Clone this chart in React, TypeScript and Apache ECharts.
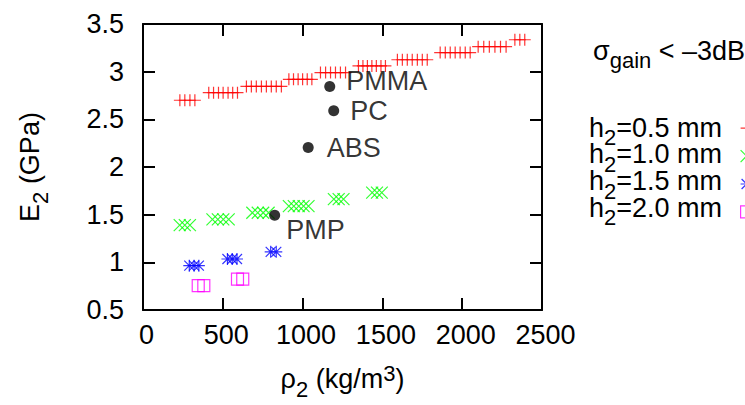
import React, { useEffect, useRef } from 'react';
import * as echarts from 'echarts';

const FONT = '"Liberation Sans", Arial, Helvetica, sans-serif';

// ---- data ----
const seriesNames = ['h2=0.5 mm', 'h2=1.0 mm', 'h2=1.5 mm', 'h2=2.0 mm'];
const h2Labels = ['0.5', '1.0', '1.5', '2.0'];

// [density kg/m3, E2 GPa]
const h05Points = [
  [231, 2.7], [262, 2.7], [294, 2.7], [325, 2.7],
  [412, 2.78], [442, 2.78], [473, 2.78], [502, 2.78], [533, 2.78], [562, 2.78], [592, 2.78],
  [648, 2.845], [679, 2.845], [710, 2.845], [742, 2.845], [773, 2.845], [804, 2.845], [835, 2.845], [867, 2.845],
  [914, 2.92], [943, 2.92], [972, 2.92], [1000, 2.92], [1029, 2.92], [1058, 2.92],
  [1112, 2.99], [1144, 2.99], [1175, 2.99], [1206, 2.99], [1237, 2.99], [1269, 2.99],
  [1350, 3.06], [1378, 3.06], [1406, 3.06], [1434, 3.06], [1462, 3.06], [1491, 3.06], [1519, 3.06],
  [1594, 3.125], [1625, 3.125], [1656, 3.125], [1687, 3.125], [1719, 3.125], [1750, 3.125], [1781, 3.125],
  [1862, 3.2], [1894, 3.2], [1925, 3.2], [1956, 3.2], [1987, 3.2], [2019, 3.2], [2050, 3.2],
  [2100, 3.262], [2135, 3.262], [2170, 3.262], [2205, 3.262], [2240, 3.262], [2275, 3.262],
  [2330, 3.335], [2361, 3.335], [2392, 3.335],
];
const h10Points = [
  [230, 1.39], [262, 1.39], [294, 1.39],
  [435, 1.45], [469, 1.45], [503, 1.45], [537, 1.45],
  [685, 1.52], [719, 1.52], [753, 1.52], [787, 1.52],
  [914, 1.59], [945, 1.59], [976, 1.59], [1006, 1.59], [1037, 1.59],
  [1196, 1.663], [1226, 1.663], [1256, 1.663],
  [1436, 1.732], [1466, 1.732], [1496, 1.732],
];
const h15Points = [
  [290, 0.965], [320, 0.965], [350, 0.965],
  [529, 1.035], [559, 1.035], [589, 1.035],
  [800, 1.11], [835, 1.11],
];
const h20Points = [
  [346, 0.755], [381, 0.755],
  [592, 0.823], [625, 0.823],
];

const materialNames = ['PMMA', 'PC', 'ABS', 'PMP'];
const materialDensity = [1170, 1195, 1035, 825];
const materialModulus = [2.845, 2.59, 2.205, 1.495];

const xMin = 0;
const xMax = 2500;
const xStep = 500;
const yMin = 0.5;
const yMax = 3.5;
const yStep = 0.5;

// ---- styles ----
const seriesColors = ['#ff0000', '#00ff00', '#0000ff', '#ff00ff'];
const seriesSymbols = [
  'path://M0,6L12,6M6,0L6,12',
  'path://M0,0L12,12M0,12L12,0',
  'path://M0,6L12,6M6,0L6,12M1,1L11,11M1,11L11,1',
  'path://M0,0L12,0L12,12L0,12Z',
];
const labelOffsets: Record<string, number[]> = {
  PMMA: [0, -5],
  PC: [0, 0],
  ABS: [2, 1],
  PMP: [-5, 15],
};

const FS = 27;
const SFS = 22;
const SUB_SHIFT = 10;
const LH = 50;
const rich = {
  m: { fontSize: FS, fontFamily: FONT, color: '#000', lineHeight: LH },
  s: { fontSize: SFS, fontFamily: FONT, color: '#000', padding: [SUB_SHIFT * 2, 0, 0, 0] },
  p: { fontSize: SFS, fontFamily: FONT, color: '#000', padding: [0, 0, 11, 0] },
};

const LEGEND_TEXT_X = 589;
const LEGEND_TOP_Y = 127.6;
const LEGEND_STEP = 26.7;

function measure(text: string, size: number): number {
  const c = document.createElement('canvas').getContext('2d');
  if (!c) return text.length * size * 0.55;
  c.font = `${size}px ${FONT}`;
  return c.measureText(text).width;
}

// text made of [content, isSubscript] pieces, laid out left to right
function subscriptText(x: number, y: number, pieces: [string, boolean][]) {
  let cx = 0;
  const children = pieces.map(([t, sub]) => {
    const size = sub ? SFS : FS;
    const el = {
      type: 'text',
      x: cx,
      y: sub ? SUB_SHIFT : 0,
      silent: true,
      style: {
        text: t,
        fontSize: size,
        fontFamily: FONT,
        fill: '#000',
        align: 'left',
        verticalAlign: 'middle',
      },
    };
    cx += measure(t, size);
    return el;
  });
  return { type: 'group', x, y, silent: true, children };
}

export default function App() {
  const ref = useRef<HTMLDivElement>(null);

  useEffect(() => {
    if (!ref.current) return;
    const chart = echarts.init(ref.current, null, { renderer: 'svg' });
    const allPoints = [h05Points, h10Points, h15Points, h20Points];

    const dataSeries = allPoints.map((pts, i) => ({
      name: seriesNames[i],
      type: 'scatter',
      xAxisIndex: 0,
      yAxisIndex: 0,
      data: pts,
      symbol: seriesSymbols[i],
      symbolSize: 12,
      itemStyle: {
        color: 'rgba(0,0,0,0)',
        borderColor: seriesColors[i],
        borderWidth: 1.2,
      },
      emphasis: { disabled: true },
      z: 3,
    }));

    const axisLine = { show: true, onZero: false, lineStyle: { color: '#000', width: 2 } };
    const axisTick = { show: true, inside: true, length: 12, lineStyle: { color: '#000', width: 2 } };

    const legendTexts = seriesNames.map((_, i) =>
      subscriptText(LEGEND_TEXT_X, LEGEND_TOP_Y + LEGEND_STEP * i, [
        ['h', false],
        ['2', true],
        [`=${h2Labels[i]} mm`, false],
      ])
    );

    const option = {
      animation: false,
      textStyle: { fontFamily: FONT },
      grid: { left: 143, right: 203, top: 24, bottom: 87, containLabel: false },
      xAxis: [
        {
          type: 'value',
          min: xMin,
          max: xMax,
          interval: xStep,
          position: 'bottom',
          axisLine,
          axisTick,
          axisLabel: {
            fontSize: FS,
            color: '#000',
            fontFamily: FONT,
            margin: 11,
            padding: [0, 0, 0, 7],
            formatter: (v: number) => String(v),
          },
          splitLine: { show: false },
          name: '{m|ρ}{s|2}{m| (kg/m}{p|3}{m|)}',
          nameLocation: 'middle',
          nameGap: 44,
          nameTextStyle: { rich, fontSize: FS, color: '#000' },
        },
        {
          type: 'value',
          min: xMin,
          max: xMax,
          interval: xStep,
          position: 'top',
          axisLine,
          axisTick,
          axisLabel: { show: false },
          splitLine: { show: false },
        },
      ],
      yAxis: [
        {
          type: 'value',
          min: yMin,
          max: yMax,
          interval: yStep,
          position: 'left',
          axisLine,
          axisTick,
          axisLabel: { fontSize: FS, color: '#000', fontFamily: FONT, margin: 19 },
          splitLine: { show: false },
          name: '{m|E}{s|2}{m| (GPa)}',
          nameLocation: 'middle',
          nameRotate: 90,
          nameGap: 88,
          nameTextStyle: { rich, fontSize: FS, color: '#000' },
        },
        {
          type: 'value',
          min: yMin,
          max: yMax,
          interval: yStep,
          position: 'right',
          axisLine,
          axisTick,
          axisLabel: { show: false },
          splitLine: { show: false },
        },
      ],
      legend: {
        data: seriesNames,
        orient: 'vertical',
        left: 740,
        top: LEGEND_TOP_Y - 6,
        padding: 0,
        align: 'left',
        itemWidth: 12,
        itemHeight: 12,
        itemGap: LEGEND_STEP - 12,
        selectedMode: false,
        formatter: () => '',
        itemStyle: { borderWidth: 1.2 },
        textStyle: { fontSize: 1, color: '#000' },
      },
      graphic: [
        subscriptText(593, 50.5, [
          ['σ', false],
          ['gain', true],
          [' < –3dB', false],
        ]),
        ...legendTexts,
      ],
      series: [
        ...dataSeries,
        {
          name: 'materials',
          type: 'scatter',
          xAxisIndex: 0,
          yAxisIndex: 0,
          symbol: 'circle',
          symbolSize: 11,
          itemStyle: { color: '#000' },
          emphasis: { disabled: true },
          z: 4,
          data: materialNames.map((n, i) => ({
            name: n,
            value: [materialDensity[i], materialModulus[i]],
            label: { offset: labelOffsets[n] },
          })),
          label: {
            show: true,
            position: 'right',
            distance: 11,
            formatter: '{b}',
            fontSize: FS,
            fontFamily: FONT,
            color: '#000',
          },
        },
      ],
    };

    chart.setOption(option as any);
    return () => chart.dispose();
  }, []);

  return (
    <div
      ref={ref}
      style={{ position: 'absolute', left: 0, top: 0, width: 745, height: 405, background: '#fff' }}
    />
  );
}
